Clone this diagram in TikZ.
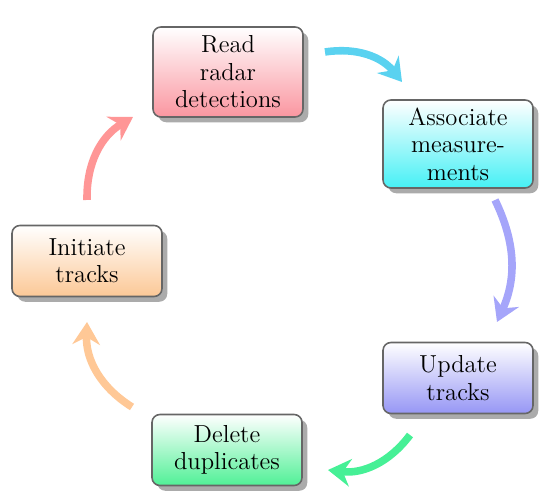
\documentclass[tikz,border=0pt]{standalone}
\usepackage{xcolor}
\usepackage{tikz}
\usetikzlibrary{arrows.meta, shadows}

\definecolor{readbox}{RGB}{250,150,160}
\definecolor{assocbox}{RGB}{70,240,245}
\definecolor{updatebox}{RGB}{150,150,245}
\definecolor{deletebox}{RGB}{80,240,150}
\definecolor{initbox}{RGB}{252,200,150}
\definecolor{readarr}{RGB}{255,150,150}
\definecolor{assocarr}{RGB}{90,210,240}
\definecolor{updatearr}{RGB}{165,165,250}
\definecolor{deletearr}{RGB}{70,240,150}
\definecolor{initarr}{RGB}{255,200,150}

\begin{document}
\begin{tikzpicture}[
    x=0.02cm, y=-0.02cm,
    box/.style={draw=black!60, line width=0.9pt, rectangle, rounded corners=4.5pt, top color=white, bottom color=#1, align=center, minimum width=3cm, minimum height=1.42cm, font=\fontsize{14}{15.6}\selectfont, drop shadow={shadow xshift=3pt, shadow yshift=-3pt, fill=black!55, opacity=0.6}},
    arrow/.style={draw=#1, line width=4.3pt, -{Stealth[length=0.45cm, width=0.55cm, inset=0.15cm]}}
]
    \useasboundingbox (0,0) rectangle (550,502);

    \node (read) [box=readbox, minimum height=1.8cm] at (228,72) {Read\\radar\\detections};
    \node (assoc) [box=assocbox, minimum height=1.76cm] at (458,144) {Associate\\measure-\\ments};
    \node (update) [box=updatebox] at (458,378) {Update\\tracks};
    \node (delete) [box=deletebox] at (227,450) {Delete\\duplicates};
    \node (init) [box=initbox] at (87,261) {Initiate\\tracks};

    % free ends of the curved arrows
    \coordinate (rs) at (87,200);   \coordinate (re) at (133,117);
    \coordinate (cs) at (325,52);   \coordinate (ce) at (402,82);
    \coordinate (bs) at (495,200);  \coordinate (be) at (497,322);
    \coordinate (gs) at (410,435);  \coordinate (ge) at (328,470);
    \coordinate (os) at (132,407);  \coordinate (oe) at (87,322);

    \draw [arrow=readarr] (rs) to[bend left=30] (re);
    \draw [arrow=assocarr] (cs) to[bend left=30] (ce);
    \draw [arrow=updatearr] (bs) to[bend left=25] (be);
    \draw [arrow=deletearr] (gs) to[bend left=30] (ge);
    \draw [arrow=initarr] (os) to[bend left=30] (oe);
\end{tikzpicture}
\end{document}
